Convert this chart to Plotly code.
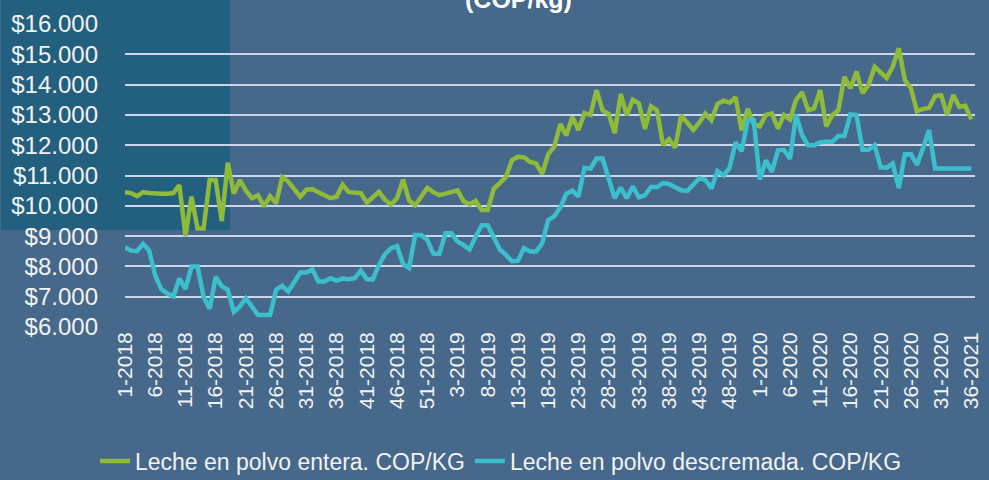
import plotly.graph_objects as go

# Weekly categories: 2018 (53 weeks), 2019 (52 weeks), 2020 weeks 1-35, last label as shown
weeks_2018 = [f"{w}-2018" for w in range(1, 54)]
weeks_2019 = [f"{w}-2019" for w in range(1, 53)]
weeks_2020 = [f"{w}-2020" for w in range(1, 36)]
last_label = ["36-2021"]
categories = weeks_2018 + weeks_2019 + weeks_2020 + last_label

entera = [
    10450, 10420, 10320, 10450, 10420, 10400, 10400, 10400, 10420, 10680,
    9000, 10300, 9250, 9250, 10850, 10850, 9500, 11420, 10400, 10850,
    10500, 10250, 10350, 9980, 10320, 10080, 10950, 10800, 10550, 10300,
    10530, 10550, 10450, 10350, 10250, 10300, 10700, 10450, 10420, 10420,
    10100, 10300, 10460, 10200, 10040, 10250, 10860, 10180, 10020, 10300,
    10590, 10450, 10350, 10400, 10450, 10510, 10150, 10050, 10160, 9860,
    9860, 10560, 10750, 10950, 11500, 11620, 11600, 11450, 11400, 11050,
    11700, 11950, 12700, 12320, 12930, 12500, 13060, 13000, 13820, 13150,
    13040, 12400, 13690, 12980, 13500, 13380, 12540, 13280, 13150, 12000,
    12200, 11920, 12980, 12720, 12500, 12750, 13040, 12820, 13360, 13470,
    13400, 13580, 12490, 13200, 12700, 12620, 13000, 13050, 12550, 13000,
    12850, 13500, 13750, 13150, 13220, 13820, 12620, 13000, 13150, 14260,
    13880, 14430, 13720, 13990, 14590, 14400, 14220, 14590, 15200, 14150,
    13880, 13120, 13200, 13230, 13620, 13650, 13000, 13660, 13270, 13300,
    12850,
]

descremada = [
    8630, 8520, 8500, 8740, 8520, 7700, 7250, 7100, 7010, 7600,
    7250, 8000, 8000, 7000, 6600, 7650, 7350, 7230, 6500, 6680,
    6950, 6680, 6400, 6400, 6400, 7230, 7360, 7170, 7470, 7800,
    7800, 7900, 7500, 7500, 7610, 7530, 7600, 7580, 7610, 7860,
    7580, 7580, 8050, 8400, 8600, 8670, 8080, 7950, 9040, 9040,
    8880, 8420, 8410, 9090, 9090, 8820, 8700, 8560, 8980, 9360,
    9360, 8980, 8560, 8380, 8170, 8190, 8600, 8490, 8490, 8760,
    9530, 9650, 9950, 10400, 10500, 10300, 11250, 11230, 11560, 11560,
    10850, 10250, 10600, 10250, 10640, 10280, 10350, 10620, 10620, 10750,
    10720, 10620, 10510, 10490, 10720, 10900, 10860, 10570, 11150, 11000,
    11250, 12100, 11800, 12820, 12820, 10870, 11500, 11120, 11830, 11850,
    11550, 13000, 12330, 12000, 12000, 12100, 12110, 12110, 12300, 12300,
    13020, 12990, 11850, 11850, 12000, 11270, 11260, 11400, 10580, 11700,
    11700, 11350, 11900, 12500, 11230, 11230, 11230, 11230, 11230, 11230,
    11230,
]

y_ticks = [6000, 7000, 8000, 9000, 10000, 11000, 12000, 13000, 14000, 15000, 16000]
y_tick_text = ["$6.000", "$7.000", "$8.000", "$9.000", "$10.000", "$11.000",
               "$12.000", "$13.000", "$14.000", "$15.000", "$16.000"]
x_tick_vals = categories[::5]

GREEN = "#8fba3a"
CYAN = "#3bbfcc"
BG = "#46688a"
DARK = "#236080"
FONT = "Liberation Sans, Arial, sans-serif"

fig = go.Figure()
fig.add_trace(go.Scatter(x=categories, y=entera, mode="lines",
                         name="Leche en polvo entera. COP/KG",
                         line=dict(color=GREEN, width=4.5)))
fig.add_trace(go.Scatter(x=categories, y=descremada, mode="lines",
                         name="Leche en polvo descremada. COP/KG",
                         line=dict(color=CYAN, width=4.5)))

# dark block in the upper-left corner
plot_w = 989 - 125 - 7
plot_h = 327 - 24
fig.add_shape(type="rect", xref="paper", yref="paper", layer="below",
              x0=-125 / plot_w, x1=106 / plot_w,
              y0=(327 - 230) / plot_h, y1=1 + 30 / plot_h,
              fillcolor=DARK, line=dict(width=0))

fig.add_annotation(text="<b>(COP/kg)</b>", xref="paper", yref="paper",
                   x=(522 - 125) / plot_w, y=1, xanchor="center", yanchor="bottom",
                   yshift=9, showarrow=False,
                   font=dict(family=FONT, size=25, color="white"))

fig.update_layout(
    width=989, height=480,
    margin=dict(l=125, r=7, t=24, b=153),
    paper_bgcolor=BG, plot_bgcolor=BG,
    font=dict(family=FONT, color="#f2f2f2"),
    showlegend=True,
    legend=dict(orientation="h", xref="container", yref="container",
                x=501 / 989, y=1 - 461 / 480, xanchor="center", yanchor="middle",
                font=dict(family=FONT, size=23, color="#f2f2f2"),
                bgcolor="rgba(0,0,0,0)", itemwidth=30, tracegroupgap=0),
)
fig.update_xaxes(type="category", range=[0, 140.6],
                 tickmode="array", tickvals=x_tick_vals, ticktext=x_tick_vals,
                 tickangle=-90, tickfont=dict(family=FONT, size=21, color="#f2f2f2"),
                 showgrid=False, showline=False, zeroline=False, ticks="")
fig.update_yaxes(range=[6000, 16000], tickmode="array", tickvals=y_ticks,
                 ticktext=y_tick_text, tickfont=dict(family=FONT, size=24, color="#f2f2f2"),
                 showgrid=True, gridcolor="#cdd5ec", gridwidth=2,
                 zeroline=False, showline=False, ticks="", ticklabelstandoff=26)

fig.write_html("out.html", config={"displayModeBar": False},
               post_script="document.body.style.margin='0';document.body.style.overflow='hidden';")
